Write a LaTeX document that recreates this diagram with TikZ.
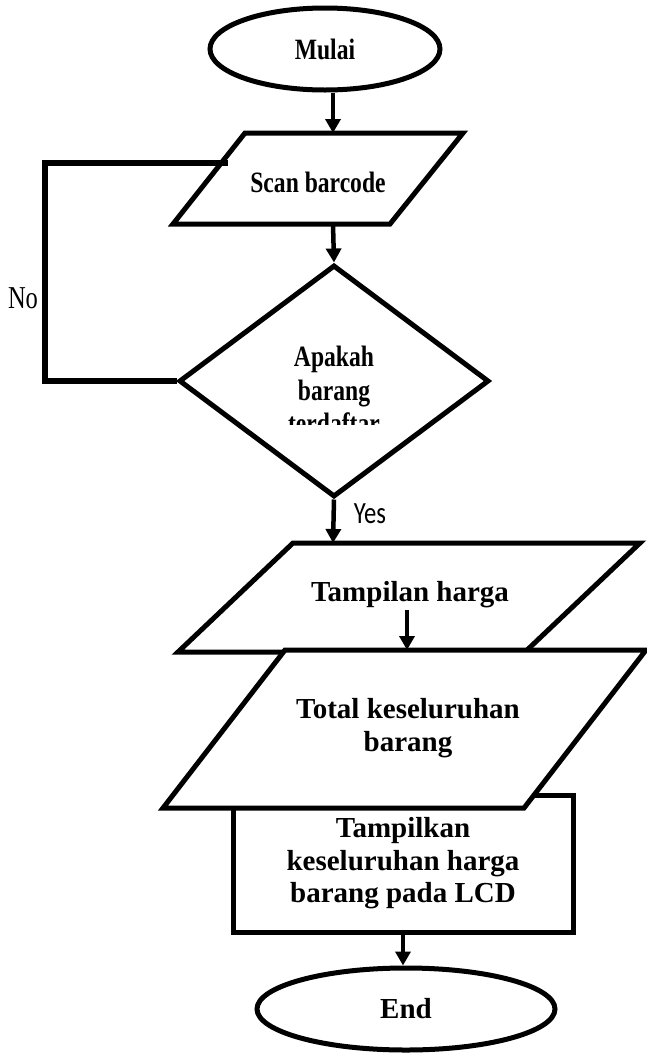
\documentclass[tikz,border=0pt]{standalone}
\usepackage{fontspec}
\setmainfont{Liberation Serif}
\newfontfamily\yesfont{Carlito}
\usetikzlibrary{shapes.geometric,arrows.meta}

\tikzset{
  terminal/.style={ellipse,draw,line width=5pt,fill=white,inner sep=0pt},
  decision/.style={diamond,draw,line width=5pt,inner sep=0pt},
  process/.style={rectangle,draw,line width=5pt,inner sep=0pt},
  io/.style={draw,line width=5pt,line join=miter},
  arr/.style={-{Triangle[width=15pt,length=14pt]},line width=4.5pt},
  loopline/.style={line width=6.5pt},
  small/.style={font=\bfseries\fontsize{23.6}{27}\selectfont,yscale=1.25,align=center,inner sep=2pt},
  big/.style={font=\bfseries\fontsize{29}{32.5}\selectfont,align=center,inner sep=2pt}
}

\begin{document}
\begin{tikzpicture}[x=1pt,y=-1pt]
\useasboundingbox (0,0) rectangle (647,1053);
% mulai
\node[terminal,small,minimum width=230pt,minimum height=65.6pt] (mulai) at (325,49) {Mulai};
\coordinate (scantop) at (333,133);
\coordinate (scanbot) at (333,224);
\draw[arr] (mulai.south -| scantop) -- (scantop);
% input barcode
\draw[io] (245,133) -- (463,133) -- (390,224) -- (173,224) -- cycle;
\node[small] (scan) at (318,182) {Scan barcode};
% keputusan
\node[decision,minimum width=310pt,minimum height=232pt] (tanya) at (334,381) {};
\draw[arr] (scanbot) -- (tanya.north);
\begin{scope}
\clip (180,300) rectangle (490,424);
\node[small] (tanyatext) at (334,390) {Apakah\\barang\\terdaftar};
\end{scope}
% cabang No
\coordinate (loopx) at (45,0);
\coordinate (noend) at (228,163);
\draw[loopline] (tanya.west) -- (tanya.west -| loopx) |- (noend);
\node[font=\fontsize{24.5}{28}\selectfont,yscale=1.3,inner sep=0pt] (no) at (23,298) {No};
% cabang Yes
\coordinate (tamptop) at (333,543);
\draw[arr] (tanya.south) -- (tamptop);
\node[font=\yesfont\fontsize{24.7}{28}\selectfont,yscale=1.25,inner sep=0pt] (yes) at (370,514) {Yes};
% tampilkan (di belakang)
\node[process,big,minimum width=340pt,minimum height=137pt] (tampil) at (403,863.5) {Tampilkan\\keseluruhan harga\\barang pada LCD};
% tampilan harga
\draw[io] (293,543) -- (640,543) -- (525,652) -- (178,652) -- cycle;
\node[big] (harga) at (410,595) {Tampilan harga};
% total
\draw[io,fill=white] (285,650) -- (646,650) -- (524,808) -- (163,808) -- cycle;
\node[big] (total) at (408,728) {Total keseluruhan\\barang};
\coordinate (totaltop) at (407,650);
\draw[arr] (harga.south -| totaltop) -- (totaltop);
% selesai
\node[terminal,big,minimum width=298pt,minimum height=82pt] (selesai) at (406,1009) {End};
\draw[arr] (tampil.south) -- (tampil.south |- selesai.north);
\end{tikzpicture}
\end{document}
